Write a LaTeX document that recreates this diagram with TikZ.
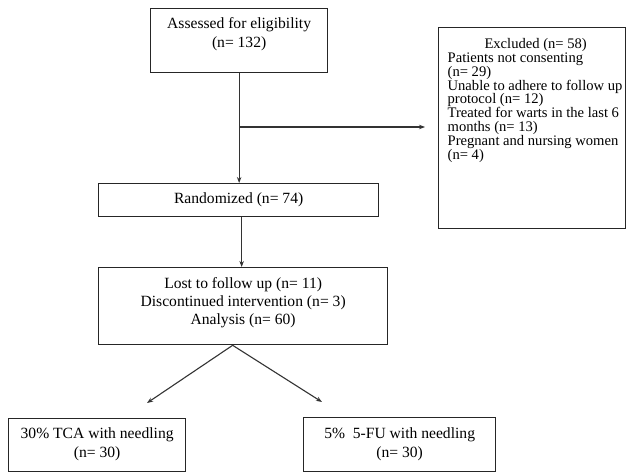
\documentclass[tikz,border=0pt]{standalone}
\usepackage{fontspec}
\setmainfont{Liberation Serif}
\usetikzlibrary{arrows.meta}
\newcommand{\bxc}[5]{\begin{minipage}[t][#2pt][t]{#1pt}\fontsize{15.6}{18.5}\selectfont#4\rule{0pt}{#3pt}#5\end{minipage}}
\begin{document}
\begin{tikzpicture}[x=1pt,y=-1pt,
  box/.style={draw=black!85,line width=1.3pt,inner sep=0pt,anchor=north west},
  arr/.style={draw=black!80,line width=1.1pt,-{Stealth[length=6pt,width=4.5pt]}}]
\useasboundingbox[fill=white] (0,0) rectangle (626,472);
\node[box] (assess) at (150,8) {\bxc{177}{64}{20}{\centering}{Assessed for eligibility\\(n= 132)}};
\node[box] (excl) at (438,27) {\bxc{187}{201}{21}{\fontsize{14.6}{13.8}\selectfont\raggedright\leftskip=9pt}{\makebox[176pt]{Excluded (n= 58)}\\Patients not consenting\\(n= 29)\\Unable to adhere to follow up\\protocol (n= 12)\\Treated for warts in the last 6\\months (n= 13)\\Pregnant and nursing women\\(n= 4)}};
\node[box] (rand) at (98,183) {\bxc{280}{33}{20}{\centering}{Randomized (n= 74)}};
\node[box] (lost) at (98,267) {\bxc{289}{77}{21}{\fontsize{15.6}{18}\selectfont\centering}{Lost to follow up (n= 11)\\Discontinued intervention (n= 3)\\Analysis (n= 60)}};
\node[box] (tca) at (8,418) {\bxc{177}{52.5}{20}{\centering}{30\% TCA with needling\\(n= 30)}};
\node[box] (fu) at (303,417) {\bxc{192}{53.5}{21}{\centering}{5\%\ \ 5-FU with needling\\(n= 30)}};
\coordinate (ylvl) at (0,127);
\coordinate (branch) at (assess.south |- ylvl);
\draw[arr] (assess.south) -- (assess.south |- rand.north);
\draw[arr] (branch) -- ([xshift=-13pt]excl.west |- branch);
\draw[arr] ([xshift=3pt]rand.south) -- ([xshift=3pt]rand.south |- lost.north);
\coordinate (apex) at ([xshift=-10.5pt]lost.south);
\coordinate (tipL) at (147,403);
\coordinate (tipR) at (322,402);
\draw[arr] (apex) -- (tipL);
\draw[arr] (apex) -- (tipR);
\end{tikzpicture}
\end{document}
